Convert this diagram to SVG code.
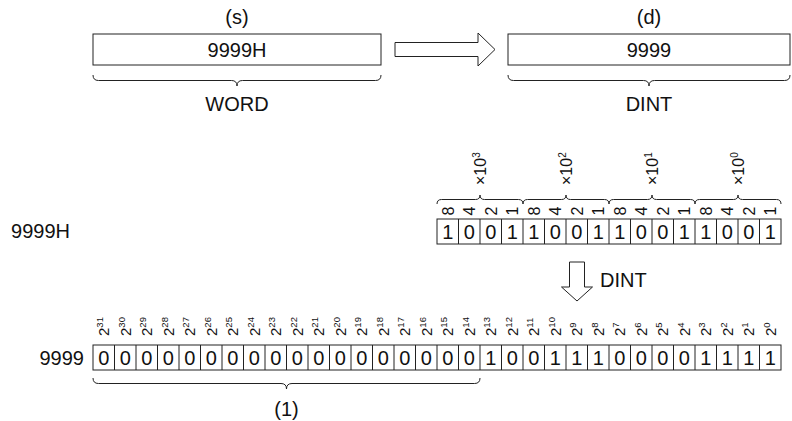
<svg xmlns="http://www.w3.org/2000/svg" width="792" height="421" viewBox="0 0 792 421">
<style>
text{font-family:"Liberation Sans",Arial,sans-serif;fill:#111}
.lbl{font-size:20px;text-anchor:middle}
.big{font-size:20px}
.cell{font-size:20px;text-anchor:middle}
.rot{font-size:16px;text-anchor:middle}
.x10{font-size:16px;text-anchor:start}
.p2{font-size:15px;text-anchor:start}
.ln{fill:none;stroke:#222;stroke-width:1}
.box{fill:#fff;stroke:#222;stroke-width:1}
</style>
<rect width="792" height="421" fill="#fff"/>
<g id="src">
<text class="lbl" x="237" y="24">(s)</text>
<rect class="box" x="93" y="34" width="288" height="31"/>
<text class="lbl" x="237" y="57">9999H</text>
<path class="ln" d="M93,75 Q93,80.5 98.5,80.5 H231.5 Q237,80.5 237,86 Q237,80.5 242.5,80.5 H375.5 Q381,80.5 381,75"/>
<text class="lbl" x="237" y="111">WORD</text>
</g>
<g id="dst">
<text class="lbl" x="649" y="24">(d)</text>
<rect class="box" x="508" y="34" width="282" height="31"/>
<text class="lbl" x="649" y="57">9999</text>
<path class="ln" d="M508,75 Q508,80.5 513.5,80.5 H643.5 Q649,80.5 649,86 Q649,80.5 654.5,80.5 H784.5 Q790,80.5 790,75"/>
<text class="lbl" x="649" y="111">DINT</text>
</g>
<g id="connectors">
<path class="box" d="M395,42.5 H478 V33 L495,49.5 L478,66 V56.5 H395 Z"/>
<path class="box" d="M569.5,262 H584.5 V287 H592.5 L577,301 L561.5,287 H569.5 Z"/>
<text class="big" x="600" y="287">DINT</text>
</g>
<g id="bcd">
<text class="big" x="70" y="238" text-anchor="end">9999H</text>
<g class="x10">
<g transform="translate(480,185) rotate(-90)"><text x="0" y="5.8">×10<tspan dy="-6" font-size="10">3</tspan></text></g>
<g transform="translate(566,185) rotate(-90)"><text x="0" y="5.8">×10<tspan dy="-6" font-size="10">2</tspan></text></g>
<g transform="translate(652,185) rotate(-90)"><text x="0" y="5.8">×10<tspan dy="-6" font-size="10">1</tspan></text></g>
<g transform="translate(738,185) rotate(-90)"><text x="0" y="5.8">×10<tspan dy="-6" font-size="10">0</tspan></text></g>
</g>
<path class="ln" d="M437,204 Q437,199.5 441.5,199.5 H475.5 Q480,199.5 480,195 Q480,199.5 484.5,199.5 H518.5 Q523,199.5 523,204
M523,204 Q523,199.5 527.5,199.5 H561.5 Q566,199.5 566,195 Q566,199.5 570.5,199.5 H604.5 Q609,199.5 609,204
M609,204 Q609,199.5 613.5,199.5 H647.5 Q652,199.5 652,195 Q652,199.5 656.5,199.5 H690.5 Q695,199.5 695,204
M695,204 Q695,199.5 699.5,199.5 H733.5 Q738,199.5 738,195 Q738,199.5 742.5,199.5 H776.5 Q781,199.5 781,204"/>
<g class="rot">
<g transform="translate(447.75,211) rotate(-90)"><text x="0" y="5.8">8</text></g>
<g transform="translate(469.25,211) rotate(-90)"><text x="0" y="5.8">4</text></g>
<g transform="translate(490.75,211) rotate(-90)"><text x="0" y="5.8">2</text></g>
<g transform="translate(512.25,211) rotate(-90)"><text x="0" y="5.8">1</text></g>
<g transform="translate(533.75,211) rotate(-90)"><text x="0" y="5.8">8</text></g>
<g transform="translate(555.25,211) rotate(-90)"><text x="0" y="5.8">4</text></g>
<g transform="translate(576.75,211) rotate(-90)"><text x="0" y="5.8">2</text></g>
<g transform="translate(598.25,211) rotate(-90)"><text x="0" y="5.8">1</text></g>
<g transform="translate(619.75,211) rotate(-90)"><text x="0" y="5.8">8</text></g>
<g transform="translate(641.25,211) rotate(-90)"><text x="0" y="5.8">4</text></g>
<g transform="translate(662.75,211) rotate(-90)"><text x="0" y="5.8">2</text></g>
<g transform="translate(684.25,211) rotate(-90)"><text x="0" y="5.8">1</text></g>
<g transform="translate(705.75,211) rotate(-90)"><text x="0" y="5.8">8</text></g>
<g transform="translate(727.25,211) rotate(-90)"><text x="0" y="5.8">4</text></g>
<g transform="translate(748.75,211) rotate(-90)"><text x="0" y="5.8">2</text></g>
<g transform="translate(770.25,211) rotate(-90)"><text x="0" y="5.8">1</text></g>
</g>
<rect class="box" x="437" y="219" width="344" height="25"/>
<path class="ln" d="M458.5,219V244M480,219V244M501.5,219V244M523,219V244M544.5,219V244M566,219V244M587.5,219V244M609,219V244M630.5,219V244M652,219V244M673.5,219V244M695,219V244M716.5,219V244M738,219V244M759.5,219V244"/>
<g class="cell">
<text x="447.75" y="238.7">1</text><text x="469.25" y="238.7">0</text><text x="490.75" y="238.7">0</text><text x="512.25" y="238.7">1</text>
<text x="533.75" y="238.7">1</text><text x="555.25" y="238.7">0</text><text x="576.75" y="238.7">0</text><text x="598.25" y="238.7">1</text>
<text x="619.75" y="238.7">1</text><text x="641.25" y="238.7">0</text><text x="662.75" y="238.7">0</text><text x="684.25" y="238.7">1</text>
<text x="705.75" y="238.7">1</text><text x="727.25" y="238.7">0</text><text x="748.75" y="238.7">0</text><text x="770.25" y="238.7">1</text>
</g>
</g>
<g id="dint">
<text class="big" x="84" y="364.5" text-anchor="end">9999</text>
<g class="p2">
<g transform="translate(103.75,336) rotate(-90)"><text x="0" y="5.4">2<tspan dy="-6" font-size="9.5">31</tspan></text></g>
<g transform="translate(125.25,336) rotate(-90)"><text x="0" y="5.4">2<tspan dy="-6" font-size="9.5">30</tspan></text></g>
<g transform="translate(146.75,336) rotate(-90)"><text x="0" y="5.4">2<tspan dy="-6" font-size="9.5">29</tspan></text></g>
<g transform="translate(168.25,336) rotate(-90)"><text x="0" y="5.4">2<tspan dy="-6" font-size="9.5">28</tspan></text></g>
<g transform="translate(189.75,336) rotate(-90)"><text x="0" y="5.4">2<tspan dy="-6" font-size="9.5">27</tspan></text></g>
<g transform="translate(211.25,336) rotate(-90)"><text x="0" y="5.4">2<tspan dy="-6" font-size="9.5">26</tspan></text></g>
<g transform="translate(232.75,336) rotate(-90)"><text x="0" y="5.4">2<tspan dy="-6" font-size="9.5">25</tspan></text></g>
<g transform="translate(254.25,336) rotate(-90)"><text x="0" y="5.4">2<tspan dy="-6" font-size="9.5">24</tspan></text></g>
<g transform="translate(275.75,336) rotate(-90)"><text x="0" y="5.4">2<tspan dy="-6" font-size="9.5">23</tspan></text></g>
<g transform="translate(297.25,336) rotate(-90)"><text x="0" y="5.4">2<tspan dy="-6" font-size="9.5">22</tspan></text></g>
<g transform="translate(318.75,336) rotate(-90)"><text x="0" y="5.4">2<tspan dy="-6" font-size="9.5">21</tspan></text></g>
<g transform="translate(340.25,336) rotate(-90)"><text x="0" y="5.4">2<tspan dy="-6" font-size="9.5">20</tspan></text></g>
<g transform="translate(361.75,336) rotate(-90)"><text x="0" y="5.4">2<tspan dy="-6" font-size="9.5">19</tspan></text></g>
<g transform="translate(383.25,336) rotate(-90)"><text x="0" y="5.4">2<tspan dy="-6" font-size="9.5">18</tspan></text></g>
<g transform="translate(404.75,336) rotate(-90)"><text x="0" y="5.4">2<tspan dy="-6" font-size="9.5">17</tspan></text></g>
<g transform="translate(426.25,336) rotate(-90)"><text x="0" y="5.4">2<tspan dy="-6" font-size="9.5">16</tspan></text></g>
<g transform="translate(447.75,336) rotate(-90)"><text x="0" y="5.4">2<tspan dy="-6" font-size="9.5">15</tspan></text></g>
<g transform="translate(469.25,336) rotate(-90)"><text x="0" y="5.4">2<tspan dy="-6" font-size="9.5">14</tspan></text></g>
<g transform="translate(490.75,336) rotate(-90)"><text x="0" y="5.4">2<tspan dy="-6" font-size="9.5">13</tspan></text></g>
<g transform="translate(512.25,336) rotate(-90)"><text x="0" y="5.4">2<tspan dy="-6" font-size="9.5">12</tspan></text></g>
<g transform="translate(533.75,336) rotate(-90)"><text x="0" y="5.4">2<tspan dy="-6" font-size="9.5">11</tspan></text></g>
<g transform="translate(555.25,336) rotate(-90)"><text x="0" y="5.4">2<tspan dy="-6" font-size="9.5">10</tspan></text></g>
<g transform="translate(576.75,336) rotate(-90)"><text x="0" y="5.4">2<tspan dy="-6" font-size="9.5">9</tspan></text></g>
<g transform="translate(598.25,336) rotate(-90)"><text x="0" y="5.4">2<tspan dy="-6" font-size="9.5">8</tspan></text></g>
<g transform="translate(619.75,336) rotate(-90)"><text x="0" y="5.4">2<tspan dy="-6" font-size="9.5">7</tspan></text></g>
<g transform="translate(641.25,336) rotate(-90)"><text x="0" y="5.4">2<tspan dy="-6" font-size="9.5">6</tspan></text></g>
<g transform="translate(662.75,336) rotate(-90)"><text x="0" y="5.4">2<tspan dy="-6" font-size="9.5">5</tspan></text></g>
<g transform="translate(684.25,336) rotate(-90)"><text x="0" y="5.4">2<tspan dy="-6" font-size="9.5">4</tspan></text></g>
<g transform="translate(705.75,336) rotate(-90)"><text x="0" y="5.4">2<tspan dy="-6" font-size="9.5">3</tspan></text></g>
<g transform="translate(727.25,336) rotate(-90)"><text x="0" y="5.4">2<tspan dy="-6" font-size="9.5">2</tspan></text></g>
<g transform="translate(748.75,336) rotate(-90)"><text x="0" y="5.4">2<tspan dy="-6" font-size="9.5">1</tspan></text></g>
<g transform="translate(770.25,336) rotate(-90)"><text x="0" y="5.4">2<tspan dy="-6" font-size="9.5">0</tspan></text></g>
</g>
<rect class="box" x="93" y="345" width="688" height="25"/>
<path class="ln" d="M114.5,345V370M136,345V370M157.5,345V370M179,345V370M200.5,345V370M222,345V370M243.5,345V370M265,345V370M286.5,345V370M308,345V370M329.5,345V370M351,345V370M372.5,345V370M394,345V370M415.5,345V370M437,345V370M458.5,345V370M480,345V370M501.5,345V370M523,345V370M544.5,345V370M566,345V370M587.5,345V370M609,345V370M630.5,345V370M652,345V370M673.5,345V370M695,345V370M716.5,345V370M738,345V370M759.5,345V370"/>
<g class="cell">
<text x="103.75" y="364.7">0</text><text x="125.25" y="364.7">0</text><text x="146.75" y="364.7">0</text><text x="168.25" y="364.7">0</text>
<text x="189.75" y="364.7">0</text><text x="211.25" y="364.7">0</text><text x="232.75" y="364.7">0</text><text x="254.25" y="364.7">0</text>
<text x="275.75" y="364.7">0</text><text x="297.25" y="364.7">0</text><text x="318.75" y="364.7">0</text><text x="340.25" y="364.7">0</text>
<text x="361.75" y="364.7">0</text><text x="383.25" y="364.7">0</text><text x="404.75" y="364.7">0</text><text x="426.25" y="364.7">0</text>
<text x="447.75" y="364.7">0</text><text x="469.25" y="364.7">0</text><text x="490.75" y="364.7">1</text><text x="512.25" y="364.7">0</text>
<text x="533.75" y="364.7">0</text><text x="555.25" y="364.7">1</text><text x="576.75" y="364.7">1</text><text x="598.25" y="364.7">1</text>
<text x="619.75" y="364.7">0</text><text x="641.25" y="364.7">0</text><text x="662.75" y="364.7">0</text><text x="684.25" y="364.7">0</text>
<text x="705.75" y="364.7">1</text><text x="727.25" y="364.7">1</text><text x="748.75" y="364.7">1</text><text x="770.25" y="364.7">1</text>
</g>
<path class="ln" d="M93,378 Q93,383.5 98.5,383.5 H281 Q286.5,383.5 286.5,389 Q286.5,383.5 292,383.5 H474.5 Q480,383.5 480,378"/>
<text class="lbl" x="286.5" y="416">(1)</text>
</g>
</svg>
